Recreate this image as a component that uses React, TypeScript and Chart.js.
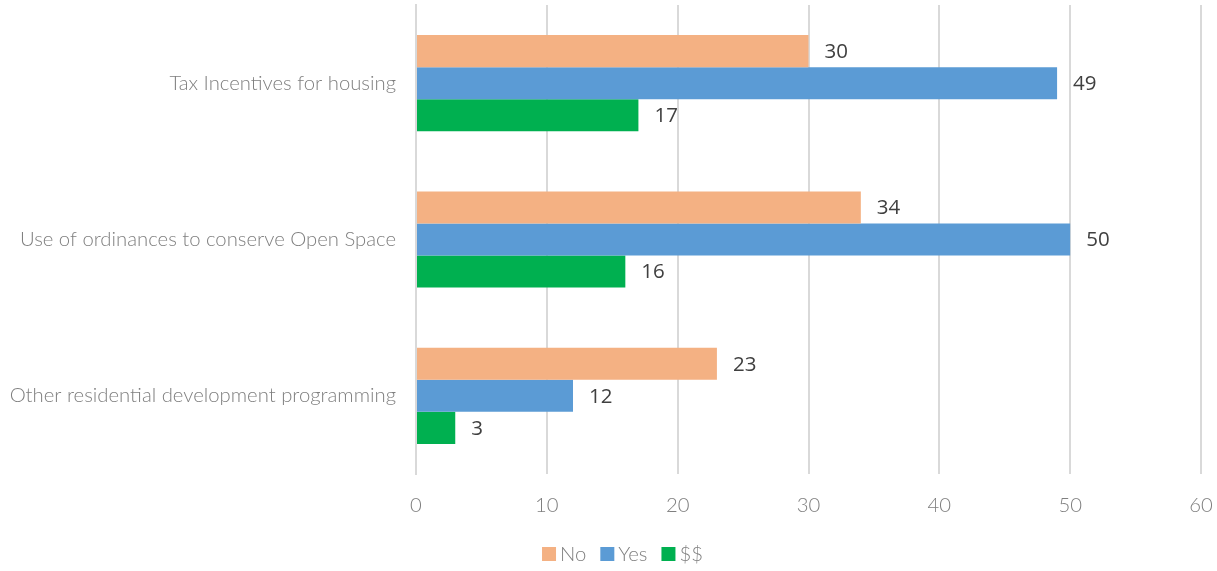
import React, { useEffect, useRef } from "react";
import { Chart, registerables } from "chart.js";

Chart.register(...registerables);

const categories = [
  "Tax Incentives for housing",
  "Use of ordinances to conserve Open Space",
  "Other residential development programming",
];
const noValues = [30, 34, 23];
const yesValues = [49, 50, 12];
const dollarValues = [17, 16, 3];
const seriesNames = ["No", "Yes", "$$"];
const seriesColors = ["#F4B183", "#5B9BD5", "#00B050"];
const xTicks = [0, 10, 20, 30, 40, 50, 60];

const labelFont = "Lato, 'Open Sans', sans-serif";

const valueLabels = {
  id: "valueLabels",
  afterDatasetsDraw(chart: any) {
    const ctx = chart.ctx;
    ctx.save();
    ctx.font = "20.5px 'Open Sans', 'DejaVu Sans', sans-serif";
    ctx.fillStyle = "#404040";
    ctx.textAlign = "left";
    ctx.textBaseline = "middle";
    chart.data.datasets.forEach((ds: any, i: number) => {
      const meta = chart.getDatasetMeta(i);
      meta.data.forEach((bar: any, j: number) => {
        ctx.fillText(String(ds.data[j]), bar.x + 16, bar.y + 1);
      });
    });
    ctx.restore();
  },
};

const customLegend = {
  id: "customLegend",
  afterDraw(chart: any) {
    const ctx = chart.ctx;
    ctx.save();
    ctx.font = `300 20.3px ${labelFont}`;
    ctx.textBaseline = "middle";
    ctx.textAlign = "left";
    const box = 14;
    const gap = 4;
    const itemGap = 14;
    const items = chart.data.datasets.map((ds: any) => ({
      text: ds.label,
      color: ds.backgroundColor,
      w: box + gap + ctx.measureText(ds.label).width,
    }));
    const total = items.reduce((s: number, it: any) => s + it.w, 0) + itemGap * (items.length - 1);
    let x = (chart.width - total) / 2 + 14;
    const y = chart.height - 17;
    items.forEach((it: any) => {
      ctx.fillStyle = it.color;
      ctx.fillRect(x, y - box / 2, box, box);
      ctx.fillStyle = "#7f7f7f";
      ctx.fillText(it.text, x + box + gap, y);
      x += it.w + itemGap;
    });
    ctx.restore();
  },
};

export default function App() {
  const ref = useRef<HTMLCanvasElement>(null);
  useEffect(() => {
    document.body.style.margin = "0";
    const chart = new Chart(ref.current!, {
      type: "bar",
      data: {
        labels: categories,
        datasets: [
          { label: seriesNames[0], data: noValues, backgroundColor: seriesColors[0] },
          { label: seriesNames[1], data: yesValues, backgroundColor: seriesColors[1] },
          { label: seriesNames[2], data: dollarValues, backgroundColor: seriesColors[2] },
        ],
      },
      options: {
        indexAxis: "y",
        animation: false,
        responsive: false,
        maintainAspectRatio: false,
        layout: { padding: { top: 5, right: 16, left: 0, bottom: 36 } },
        datasets: { bar: { categoryPercentage: 0.615, barPercentage: 1 } } as any,
        scales: {
          x: {
            min: 0,
            max: 60,
            afterBuildTicks: (axis: any) => {
              axis.ticks = xTicks.map((v) => ({ value: v }));
            },
            grid: { color: "#d9d9d9", lineWidth: 2, drawTicks: false },
            border: { display: false },
            ticks: {
              color: "#7f7f7f",
              padding: 19,
              font: { family: labelFont, size: 20.3, weight: "300" as any },
            },
            afterFit: (axis: any) => {
              axis.height = 61;
              axis.paddingLeft = 0;
              axis.paddingRight = 0;
            },
          },
          y: {
            grid: { display: false, drawTicks: false },
            border: { display: true, color: "#d9d9d9", width: 2 },
            ticks: {
              color: "#7f7f7f",
              padding: 20,
              font: { family: labelFont, size: 20.3, weight: "300" as any },
            },
            afterFit: (axis: any) => {
              axis.width = 416;
              axis.paddingTop = 0;
              axis.paddingBottom = 0;
            },
          },
        },
        plugins: {
          legend: { display: false },
          tooltip: { enabled: false },
        },
      },
      plugins: [valueLabels, customLegend],
    });
    return () => chart.destroy();
  }, []);
  return (
    <div style={{ position: "absolute", left: 0, top: 0, width: 1217, height: 571 }}>
      <canvas ref={ref} width={1217} height={571} />
    </div>
  );
}
